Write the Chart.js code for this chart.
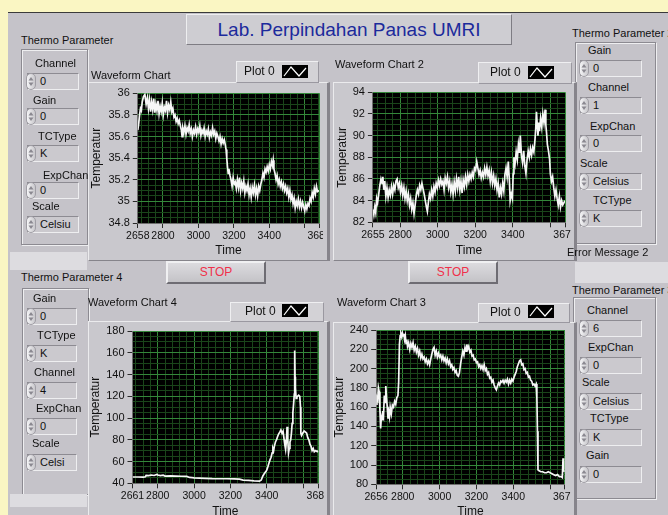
<!DOCTYPE html>
<html>
<head>
<meta charset="utf-8">
<script src="https://cdn.jsdelivr.net/npm/chart.js@4.4.1/dist/chart.umd.min.js"></script>
<style>
  body { margin: 0; width: 668px; height: 515px; overflow: hidden; position: relative;
         background: #faf6c3; font-family: "Liberation Sans", Arial, sans-serif; color: #111; }
  .abs { position: absolute; }
  #panel { left: 8px; top: 12px; right: 0; bottom: 0; background: #c5c3c9; border-top: 1px solid #3a3a3a; }
  #title { left: 186px; top: 14px; width: 324px; height: 29px; line-height: 29px; text-align: center;
           font-size: 19px; color: #1c2a9c; background: #cecdd2;
           border: 1px solid; border-color: #eeeef0 #7e7c83 #7e7c83 #eeeef0; }
  .lbl { font-size: 11px; line-height: 13px; white-space: nowrap; z-index: 5; }
  .frame { background: #c9c8cd; border: 1px solid; border-color: #ebebed #86848b #86848b #ebebed;
           border-right-width: 3px; }
  .legend { background: #d3d2d6; border: 1px solid; border-color: #efeff1 #9a98a0 #9a98a0 #efeff1; }
  .stop { background: linear-gradient(#dcdbdf, #c4c3c7); border: 2px solid; border-color: #f0f0f2 #6e6c73 #6e6c73 #f0f0f2;
          color: #f0304a; font-size: 12px; text-align: center; }
  .clu { border: 1px solid #8c8a91; box-shadow: inset 1px 1px 0 #eeeef0, 1px 1px 0 #eeeef0; }
  .fld { height: 15px; background: #cbc9ce; border: 1px solid; border-color: #8d8b92 #eeeef0 #eeeef0 #8d8b92;
         font-size: 11px; line-height: 15px; padding-left: 12px; box-sizing: content-box; }
  .spin { width: 8px; height: 15px; border-radius: 5px; background: linear-gradient(90deg, #f5f5f7, #c8c7cb);
          border: 1px solid #a09ea5; }
  .strip { background: #dddce0; }
</style>
</head>
<body>
<div id="panel" class="abs"></div>
<div id="title" class="abs">Lab. Perpindahan Panas UMRI</div>

<script>
// ---- chart data (time, temperatur) ----
const chart1Points = [[2658,35.66],[2663,35.72],[2668,35.80],[2673,35.86],[2678,35.84],[2683,35.92],[2690,35.97],[2698,35.99],[2705,35.90],[2712,35.96],[2718,35.86],[2724,35.94],[2730,35.83],[2736,35.92],[2742,35.85],[2748,35.95],[2754,35.82],[2760,35.90],[2766,35.84],[2772,35.93],[2778,35.81],[2784,35.88],[2790,35.83],[2796,35.91],[2802,35.80],[2808,35.87],[2814,35.84],[2820,35.93],[2826,35.82],[2832,35.89],[2838,35.85],[2844,35.92],[2850,35.83],[2856,35.86],[2862,35.78],[2868,35.80],[2874,35.74],[2880,35.77],[2886,35.72],[2892,35.75],[2898,35.70],[2904,35.66],[2908,35.60],[2912,35.68],[2918,35.64],[2924,35.70],[2930,35.62],[2936,35.68],[2942,35.65],[2948,35.71],[2954,35.63],[2960,35.67],[2966,35.60],[2972,35.66],[2978,35.63],[2984,35.69],[2990,35.62],[2996,35.67],[3002,35.64],[3008,35.70],[3014,35.61],[3020,35.66],[3026,35.63],[3032,35.68],[3038,35.60],[3044,35.65],[3050,35.62],[3056,35.67],[3062,35.59],[3068,35.64],[3074,35.61],[3080,35.68],[3086,35.62],[3092,35.65],[3098,35.58],[3104,35.63],[3110,35.60],[3116,35.56],[3122,35.60],[3128,35.53],[3134,35.58],[3140,35.54],[3146,35.57],[3152,35.52],[3156,35.48],[3160,35.40],[3164,35.32],[3168,35.26],[3172,35.30],[3178,35.24],[3184,35.20],[3190,35.14],[3196,35.22],[3202,35.16],[3208,35.18],[3214,35.12],[3220,35.20],[3226,35.13],[3232,35.22],[3238,35.10],[3244,35.17],[3250,35.12],[3256,35.19],[3262,35.08],[3268,35.14],[3274,35.10],[3280,35.16],[3286,35.06],[3292,35.12],[3298,35.04],[3304,35.13],[3310,35.08],[3316,35.15],[3322,35.06],[3328,35.12],[3334,35.05],[3340,35.14],[3346,35.10],[3352,35.16],[3358,35.20],[3364,35.26],[3370,35.22],[3376,35.30],[3382,35.27],[3388,35.32],[3394,35.28],[3400,35.34],[3406,35.30],[3412,35.37],[3418,35.33],[3422,35.38],[3426,35.30],[3432,35.26],[3438,35.20],[3444,35.24],[3450,35.16],[3456,35.20],[3462,35.14],[3468,35.18],[3474,35.12],[3480,35.16],[3486,35.10],[3492,35.14],[3498,35.08],[3504,35.12],[3510,35.04],[3516,35.10],[3522,35.02],[3528,35.06],[3534,34.98],[3540,35.03],[3546,34.94],[3552,35.00],[3558,34.96],[3564,35.02],[3570,34.95],[3576,35.00],[3582,34.94],[3588,34.99],[3594,34.95],[3600,34.91],[3606,34.97],[3612,34.93],[3618,34.98],[3624,34.96],[3630,35.03],[3636,35.00],[3642,35.08],[3648,35.04],[3654,35.12],[3660,35.07],[3666,35.14],[3672,35.09],[3681,35.10]];

const chart2Points = [[2655,83.2],[2660,82.7],[2665,83.4],[2670,82.9],[2675,84.2],[2680,83.8],[2686,84.6],[2692,85.4],[2698,86.0],[2704,85.6],[2708,86.2],[2713,85.0],[2718,85.8],[2724,84.4],[2730,85.2],[2736,84.3],[2742,85.0],[2748,84.5],[2754,85.3],[2760,84.6],[2766,85.4],[2772,85.0],[2778,85.8],[2784,86.0],[2790,85.2],[2796,85.6],[2802,84.8],[2808,85.4],[2814,84.5],[2820,85.2],[2826,84.2],[2832,84.9],[2838,84.0],[2844,84.6],[2850,83.6],[2856,84.2],[2862,83.2],[2868,83.8],[2874,82.8],[2880,83.6],[2886,84.5],[2892,85.0],[2898,84.6],[2904,85.4],[2910,85.0],[2916,85.6],[2922,85.1],[2928,84.6],[2934,84.0],[2940,83.4],[2945,83.0],[2950,83.8],[2956,84.6],[2962,84.2],[2968,85.0],[2974,84.4],[2980,85.3],[2986,84.8],[2992,85.6],[2998,85.2],[3004,85.9],[3010,85.4],[3016,86.0],[3022,85.5],[3028,85.8],[3034,85.0],[3040,86.1],[3046,85.6],[3052,86.2],[3058,85.2],[3064,85.8],[3070,84.8],[3076,85.5],[3082,84.6],[3088,85.7],[3094,84.9],[3100,86.0],[3106,85.2],[3112,86.2],[3118,85.0],[3124,85.8],[3130,84.7],[3136,85.9],[3142,85.3],[3148,86.2],[3154,85.5],[3160,86.4],[3166,85.8],[3172,86.4],[3178,86.0],[3184,86.6],[3190,86.2],[3196,87.0],[3202,86.8],[3208,87.6],[3214,87.0],[3220,86.4],[3226,86.8],[3232,86.1],[3238,86.6],[3244,86.2],[3250,87.0],[3256,86.4],[3262,87.1],[3268,86.3],[3274,86.8],[3280,85.8],[3286,86.6],[3292,85.6],[3298,86.3],[3304,85.4],[3310,86.0],[3316,85.0],[3322,85.6],[3328,84.3],[3334,85.2],[3340,84.6],[3346,85.6],[3352,84.9],[3358,86.4],[3364,87.0],[3370,86.2],[3376,87.6],[3382,85.8],[3386,84.0],[3392,84.6],[3398,84.2],[3402,86.5],[3406,88.0],[3412,87.4],[3418,88.5],[3424,87.8],[3430,89.2],[3436,88.4],[3440,90.0],[3446,88.2],[3452,87.5],[3458,88.6],[3464,87.2],[3470,86.5],[3476,87.8],[3482,88.6],[3488,88.0],[3494,88.8],[3500,88.2],[3506,88.9],[3512,88.5],[3518,89.6],[3522,90.6],[3526,92.2],[3530,91.0],[3534,90.0],[3538,91.2],[3542,90.4],[3548,91.6],[3554,90.8],[3560,92.0],[3566,91.2],[3572,92.4],[3576,91.0],[3580,90.2],[3584,89.2],[3590,88.6],[3596,87.8],[3600,86.5],[3606,85.8],[3612,86.2],[3618,85.2],[3624,84.4],[3630,85.0],[3636,84.2],[3642,83.6],[3648,84.4],[3654,83.4],[3660,84.0],[3666,83.6],[3678,84.0]];

const chart4Points = [[2661,45.8],[2690,45.8],[2720,45.6],[2732,46.0],[2736,47.2],[2750,47.0],[2765,47.6],[2780,47.2],[2795,48.2],[2800,47.6],[2815,47.0],[2830,47.4],[2840,46.6],[2870,46.8],[2900,46.6],[2930,46.5],[2960,46.3],[2975,45.4],[2990,45.2],[3000,45.0],[3030,44.8],[3060,44.6],[3100,44.3],[3140,44.2],[3180,44.2],[3220,44.0],[3250,43.8],[3270,43.0],[3300,42.6],[3330,42.2],[3360,42.0],[3370,43.0],[3378,46.5],[3386,48.8],[3394,50.5],[3400,52.0],[3406,55.0],[3412,58.5],[3418,61.5],[3424,64.0],[3430,68.0],[3434,72.0],[3438,70.0],[3442,74.0],[3448,78.0],[3454,80.0],[3460,83.0],[3466,85.5],[3472,87.0],[3478,89.0],[3484,86.0],[3490,88.0],[3496,80.0],[3500,75.0],[3504,71.0],[3508,78.0],[3512,92.0],[3516,80.0],[3520,68.0],[3524,72.0],[3528,78.0],[3532,80.0],[3536,86.0],[3540,95.0],[3544,105.0],[3548,113.0],[3552,122.0],[3554,162.0],[3556,138.0],[3558,128.0],[3562,118.0],[3566,119.0],[3570,120.0],[3576,121.0],[3582,120.0],[3586,110.0],[3588,86.0],[3592,84.0],[3598,86.0],[3606,88.0],[3614,87.0],[3620,86.0],[3626,82.0],[3632,80.0],[3638,76.0],[3644,74.0],[3650,70.0],[3656,72.0],[3662,69.0],[3670,70.0],[3678,69.0],[3684,70.0]];

const chart3Points = [[2656,163],[2660,170],[2664,168],[2668,180],[2672,176],[2676,158],[2680,138],[2684,150],[2688,147],[2692,156],[2696,152],[2700,172],[2704,165],[2708,182],[2712,170],[2716,160],[2720,148],[2724,155],[2728,150],[2732,160],[2738,153],[2744,162],[2750,160],[2756,166],[2762,163],[2768,170],[2774,172],[2778,186],[2782,225],[2786,234],[2790,236],[2794,233],[2798,237],[2802,234],[2806,236],[2810,230],[2814,234],[2818,226],[2822,230],[2826,223],[2832,227],[2838,220],[2844,226],[2850,222],[2856,227],[2862,219],[2868,223],[2874,217],[2880,221],[2886,214],[2892,218],[2898,211],[2904,215],[2910,210],[2916,212],[2922,207],[2928,210],[2934,205],[2940,208],[2946,204],[2952,210],[2958,215],[2964,220],[2970,222],[2976,214],[2982,218],[2988,212],[2994,216],[3000,212],[3006,214],[3012,209],[3018,213],[3024,208],[3030,211],[3036,206],[3042,210],[3048,205],[3054,208],[3060,202],[3066,204],[3072,199],[3078,201],[3084,196],[3090,198],[3096,193],[3102,192],[3108,196],[3114,205],[3120,212],[3126,218],[3132,214],[3138,222],[3144,218],[3148,225],[3152,220],[3158,223],[3164,217],[3170,219],[3176,213],[3182,214],[3188,209],[3194,210],[3200,206],[3206,207],[3212,202],[3218,204],[3224,200],[3230,203],[3236,199],[3242,204],[3248,198],[3254,200],[3260,194],[3266,196],[3272,190],[3278,191],[3284,186],[3290,188],[3296,183],[3302,180],[3308,178],[3314,182],[3320,185],[3326,183],[3332,187],[3338,186],[3344,188],[3350,185],[3356,188],[3362,186],[3368,189],[3374,184],[3380,188],[3386,185],[3392,189],[3398,187],[3404,191],[3410,194],[3416,197],[3422,202],[3428,205],[3434,208],[3440,209],[3446,204],[3452,205],[3458,199],[3464,200],[3470,195],[3476,196],[3482,191],[3488,192],[3494,188],[3500,187],[3506,183],[3512,184],[3518,182],[3524,184],[3528,170],[3531,135],[3534,95],[3540,94],[3550,93],[3560,93],[3570,92],[3580,92],[3590,93],[3600,92],[3610,91],[3620,90],[3630,89],[3640,90],[3650,88],[3660,88],[3666,87],[3670,107],[3674,94],[3679,93]];

// ---- axis ticks and labels ----
const xTicks1 = [2658, 2800, 3000, 3200, 3400, 3600, 3681];
const xLabels1 = ['2658', '2800', '3000', '3200', '3400', '', '3681'];
const yTicks1 = [34.8, 35, 35.2, 35.4, 35.6, 35.8, 36];
const yLabels1 = ['34.8', '35', '35.2', '35.4', '35.6', '35.8', '36'];

const xTicks2 = [2655, 2800, 3000, 3200, 3400, 3600, 3678];
const xLabels2 = ['2655', '2800', '3000', '3200', '3400', '', '3678'];
const yTicks2 = [82, 84, 86, 88, 90, 92, 94];
const yLabels2 = ['82', '84', '86', '88', '90', '92', '94'];

const xTicks4 = [2661, 2800, 3000, 3200, 3400, 3600, 3684];
const xLabels4 = ['2661', '2800', '3000', '3200', '3400', '', '3684'];
const yTicks4 = [40, 60, 80, 100, 120, 140, 160, 180];
const yLabels4 = ['40', '60', '80', '100', '120', '140', '160', '180'];

const xTicks3 = [2656, 2800, 3000, 3200, 3400, 3600, 3679];
const xLabels3 = ['2656', '2800', '3000', '3200', '3400', '', '3679'];
const yTicks3 = [80, 100, 120, 140, 160, 180, 200, 220, 240];
const yLabels3 = ['80', '100', '120', '140', '160', '180', '200', '220', '240'];

const FONT = '"Liberation Sans", Arial, sans-serif';

function el(cls, x, y, w, h, html) {
  const d = document.createElement('div');
  d.className = 'abs ' + cls;
  d.style.left = x + 'px'; d.style.top = y + 'px';
  if (w != null) d.style.width = w + 'px';
  if (h != null) d.style.height = h + 'px';
  if (html != null) d.innerHTML = html;
  document.body.appendChild(d);
  return d;
}

// LabVIEW style cluster of numeric / ring controls
function cluster(title, tx, ty, box, fx, fw, items) {
  el('lbl', tx, ty - 6, null, null, title);
  el('clu', box[0], box[1], box[2] - box[0], box[3] - box[1]);
  items.forEach(([name, lx, ly, value, fy]) => {
    el('lbl', lx, ly - 6, null, null, name);
    el('fld', fx, fy, fw - 12, null, value);
    el('spin', fx - 1, fy, null, null,
      '<svg width="8" height="15" style="display:block"><path d="M4 3 L6.5 6.5 L1.5 6.5Z M4 12 L6.5 8.5 L1.5 8.5Z" fill="#8a8890"/></svg>');
  });
}

cluster('Thermo Parameter', 21, 40, [21, 49, 86, 243], 27, 50, [
  ['Channel', 35, 63, '0', 73], ['Gain', 33, 100, '0', 108], ['TCType', 38, 136, 'K', 145],
  ['ExpChan', 43, 175, '0', 182], ['Scale', 32, 206, 'Celsiu', 216]]);
cluster('Thermo Parameter 2', 572, 33, [575, 42, 654, 242], 580, 60, [
  ['Gain', 588, 50, '0', 60], ['Channel', 588, 87, '1', 97], ['ExpChan', 590, 126, '0', 135],
  ['Scale', 580, 163, 'Celsius', 173], ['TCType', 593, 200, 'K', 210]]);
cluster('Thermo Parameter 4', 21, 277, [22, 288, 87, 493], 27, 48, [
  ['Gain', 33, 298, '0', 308], ['TCType', 37, 335, 'K', 345], ['Channel', 34, 372, '4', 382],
  ['ExpChan', 36, 408, '0', 418], ['Scale', 32, 443, 'Celsi', 454]]);
cluster('Thermo Parameter 3', 572, 290, [573, 297, 654, 497], 580, 60, [
  ['Channel', 587, 310, '6', 320], ['ExpChan', 588, 347, '0', 357], ['Scale', 582, 382, 'Celsius', 393],
  ['TCType', 590, 418, 'K', 429], ['Gain', 586, 455, '0', 466]]);

el('strip', 10, 252, 77, 18);
el('strip', 10, 494, 77, 13);
el('strip', 575, 262, 93, 21);

el('stop', 166, 261, 96, 19, '<div style="line-height:19px">STOP</div>');
el('stop', 408, 261, 86, 19, '<div style="line-height:19px">STOP</div>');

const plotBg = {
  id: 'plotBg',
  beforeDraw(c) {
    const a = c.chartArea, ctx = c.ctx;
    ctx.save();
    ctx.fillStyle = '#000';
    ctx.fillRect(a.left, a.top, a.right - a.left, a.bottom - a.top);
    ctx.restore();
  }
};

function withMinors(majors, min, max, anchor, step) {
  const out = majors.map(v => ({ value: v, major: true }));
  for (let k = -60; k < 300; k++) {
    const v = Math.round((anchor + k * step) * 1e6) / 1e6;
    if (v <= min || v >= max) continue;
    if (majors.some(m => Math.abs(m - v) < 1e-6)) continue;
    out.push({ value: v, major: false });
  }
  return out.sort((a, b) => a.value - b.value);
}

function waveform(c) {
  // frame, caption and legend
  el('frame', c.frame[0], c.frame[1], c.frame[2] - c.frame[0], c.frame[3] - c.frame[1]);
  el('lbl', c.caption[1], c.caption[2] - 6, null, null, c.caption[0]);
  const lg = c.legend;
  el('legend', lg[0], lg[1], lg[2] - lg[0], lg[3] - lg[1]);
  el('lbl', lg[4], (lg[1] + lg[3]) / 2 - 6, null, null, '<span style="font-size:12px">Plot 0</span>');
  el('', lg[5], lg[6], 26, 13,
    '<svg width="26" height="13" style="display:block"><rect width="26" height="13" fill="#000"/>' +
    '<polyline points="2,11 9,2 17,11 24,3" fill="none" stroke="#fff" stroke-width="1.2"/></svg>');

  const [bx0, by0, bx1, by1] = c.box;
  const [ax0, ay0, ax1, ay1] = c.area;
  const w = bx1 - bx0, h = by1 - by0;
  const cv = document.createElement('canvas');
  cv.width = w; cv.height = h;
  cv.style.cssText = `position:absolute;left:${bx0}px;top:${by0}px;width:${w}px;height:${h}px`;
  document.body.appendChild(cv);

  const xMin = c.xTicks[0], xMax = c.xTicks[c.xTicks.length - 1];
  const yMin = c.yTicks[0], yMax = c.yTicks[c.yTicks.length - 1];
  const yStep = (c.yTicks[1] - c.yTicks[0]) / 4;
  const label = (ticks, labels) => (v, i, all) => {
    if (!all[i].major) return '';
    const j = ticks.findIndex(t => Math.abs(t - all[i].value) < 1e-6);
    return j < 0 ? '' : labels[j];
  };
  const grid = {
    color: g => (g.tick && g.tick.major ? '#34883a' : '#1a451a'),
    tickColor: g => (g.tick && g.tick.major ? '#2a2a2a' : 'rgba(0,0,0,0)'),
    lineWidth: 1,
    tickLength: 5
  };

  new Chart(cv, {
    type: 'line',
    data: {
      datasets: [{
        data: c.points.map(p => ({ x: p[0], y: p[1] })),
        borderColor: '#f6f6f6',
        borderWidth: 1.7,
        pointRadius: 0,
        tension: 0
      }]
    },
    options: {
      responsive: false,
      animation: false,
      events: [],
      layout: { padding: { left: 0, top: ay0 - by0, right: bx1 - ax1, bottom: 0 } },
      plugins: { legend: { display: false }, tooltip: { enabled: false } },
      scales: {
        x: {
          type: 'linear', min: xMin, max: xMax,
          afterBuildTicks: s => { s.ticks = withMinors(c.xTicks, xMin, xMax, c.xTicks[1], 40); },
          afterFit: s => { s.height = by1 - ay1; s.paddingLeft = 0; s.paddingRight = 0; },
          ticks: { autoSkip: false, maxRotation: 0, padding: 2, color: '#111',
                   font: { family: FONT, size: 10.5 }, callback: label(c.xTicks, c.xLabels) },
          grid,
          border: { color: '#6f6f6f' },
          title: { display: true, text: 'Time', color: '#111', font: { family: FONT, size: 12 },
                   padding: { top: 0, bottom: h - 7.2 - (c.timeY - by0) } }
        },
        y: {
          type: 'linear', min: yMin, max: yMax,
          afterBuildTicks: s => { s.ticks = withMinors(c.yTicks, yMin, yMax, yMin, yStep); },
          afterFit: s => { s.width = ax0 - bx0; s.paddingTop = 0; s.paddingBottom = 0; },
          ticks: { autoSkip: false, padding: 3, color: '#111',
                   font: { family: FONT, size: 11 }, callback: label(c.yTicks, c.yLabels) },
          grid,
          border: { color: '#6f6f6f' },
          title: { display: true, text: 'Temperatur', color: '#111', font: { family: FONT, size: 12 },
                   padding: { top: c.tempX - bx0 - 7.2, bottom: 0 } }
        }
      }
    },
    plugins: [plotBg]
  });
}

waveform({
  frame: [88, 82, 326, 259], caption: ['Waveform Chart', 91, 75],
  legend: [236, 61, 317, 81, 244, 282, 65],
  box: [86, 58, 323, 260], area: [137.8, 93.3, 319.1, 223], timeY: 251, tempX: 96.7,
  points: chart1Points, xTicks: xTicks1, xLabels: xLabels1, yTicks: yTicks1, yLabels: yLabels1
});
waveform({
  frame: [333, 82, 573, 259], caption: ['Waveform Chart 2', 335, 64],
  legend: [478, 62, 570, 82, 490, 528, 66],
  box: [331, 58, 571, 260], area: [372.9, 92.3, 565, 222.3], timeY: 251, tempX: 342.7,
  points: chart2Points, xTicks: xTicks2, xLabels: xLabels2, yTicks: yTicks2, yLabels: yLabels2
});
waveform({
  frame: [88, 321, 326, 530], caption: ['Waveform Chart 4', 88, 302],
  legend: [230, 302, 322, 320, 245, 282, 304],
  box: [86, 292, 324, 530], area: [132.5, 331, 318.3, 483.3], timeY: 511.7, tempX: 96,
  points: chart4Points, xTicks: xTicks4, xLabels: xLabels4, yTicks: yTicks4, yLabels: yLabels4
});
waveform({
  frame: [333, 322, 573, 530], caption: ['Waveform Chart 3', 337, 302],
  legend: [478, 303, 568, 321, 490, 528, 305],
  box: [331, 292, 571, 530], area: [376.2, 330, 564.7, 484.3], timeY: 511.7, tempX: 340,
  points: chart3Points, xTicks: xTicks3, xLabels: xLabels3, yTicks: yTicks3, yLabels: yLabels3
});

el('lbl', 567, 246, null, null, 'Error Message 2');
</script>
</body>
</html>
